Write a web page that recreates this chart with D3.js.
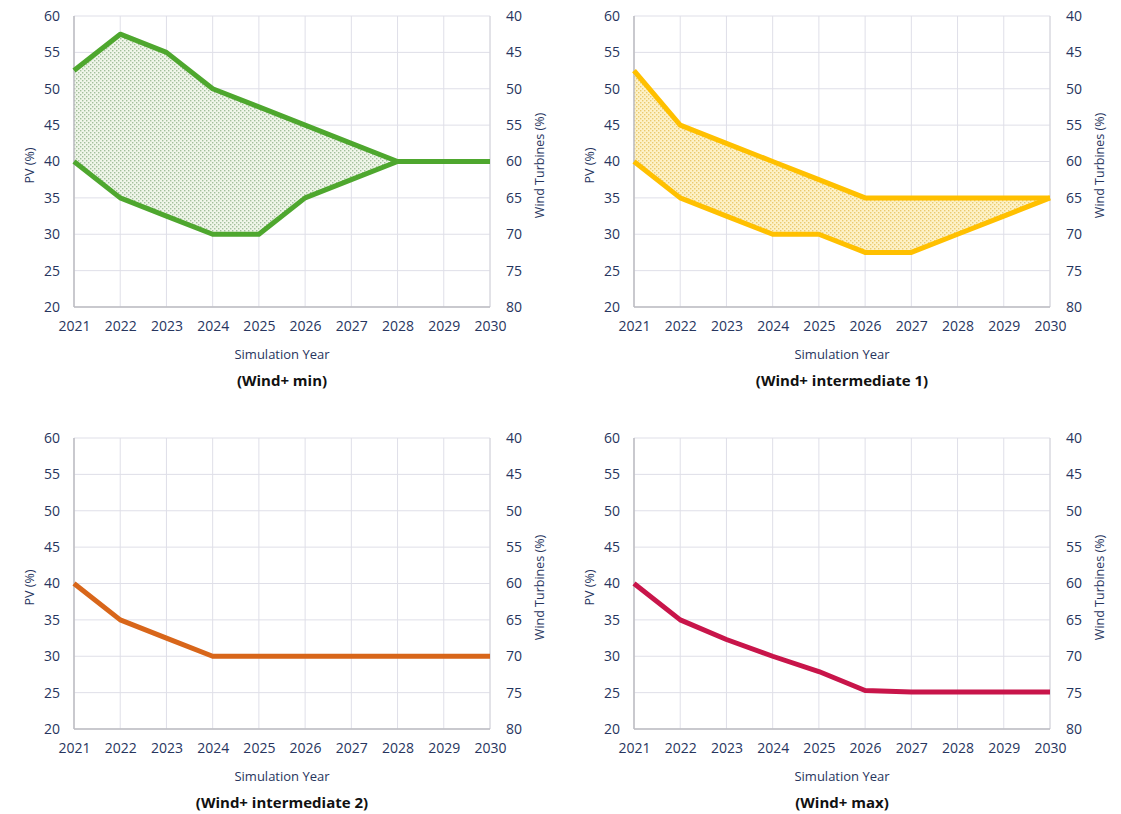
<!DOCTYPE html>
<html><head><meta charset="utf-8">
<script src="https://cdn.jsdelivr.net/npm/d3@7"></script>
<style>body{margin:0;background:#fff;}svg{display:block;font-family:"Open Sans","Liberation Sans",sans-serif;}</style>
</head><body>
<svg id="c" width="1121" height="814"></svg>
<script>
const years = [2021,2022,2023,2024,2025,2026,2027,2028,2029,2030];
const pvTicks = [20,25,30,35,40,45,50,55,60];
const windTicks = [80,75,70,65,60,55,50,45,40];

const minUpper = [52.5,57.5,55,50,47.5,45,42.5,40,40,40];
const minLower = [40,35,32.5,30,30,35,37.5,40,40,40];
const int1Upper = [52.5,45,42.5,40,37.5,35,35,35,35,35];
const int1Lower = [40,35,32.5,30,30,27.5,27.5,30,32.5,35];
const int2 = [40,35,32.5,30,30,30,30,30,30,30];
const maxLine = [40,35,32.3,30,27.9,25.3,25.1,25.1,25.1,25.1];

const titles = ["(Wind+ min)","(Wind+ intermediate 1)","(Wind+ intermediate 2)","(Wind+ max)"];

const svg = d3.select("#c");
const defs = svg.append("defs");
function dotPattern(id, bg, dot){
  const p = defs.append("pattern").attr("id",id).attr("patternUnits","userSpaceOnUse").attr("width",4).attr("height",4);
  p.append("rect").attr("width",4).attr("height",4).attr("fill",bg);
  p.append("rect").attr("x",0).attr("y",0).attr("width",1.4).attr("height",1.4).attr("fill",dot);
  p.append("rect").attr("x",2).attr("y",2).attr("width",1.4).attr("height",1.4).attr("fill",dot);
}
dotPattern("pg","#f0f6ea","#a3bf9c");
dotPattern("py","#fdf2c8","#ebca6e");

const panels = [
  {x0:74,y0:16,color:"#4ea72e",upper:minUpper,lower:minLower,fill:"url(#pg)"},
  {x0:634,y0:16,color:"#ffc000",upper:int1Upper,lower:int1Lower,fill:"url(#py)"},
  {x0:74,y0:438,color:"#d8661a",line:int2},
  {x0:634,y0:438,color:"#c8154a",line:maxLine}
];
const W=416,H=291;
const textCol="#27355e";

panels.forEach((p,i)=>{
  const g = svg.append("g").attr("transform",`translate(${p.x0},${p.y0})`);
  const x = d3.scaleLinear().domain([2021,2030]).range([0,W]);
  const y = d3.scaleLinear().domain([20,60]).range([H,0]);
  const y2 = d3.scaleLinear().domain([80,40]).range([H,0]);
  g.selectAll(".hg").data(pvTicks).join("line").attr("x1",0).attr("x2",W)
    .attr("y1",d=>y(d)).attr("y2",d=>y(d)).attr("stroke","#dfdfe8").attr("stroke-width",1);
  g.selectAll(".vg").data(years).join("line").attr("y1",0).attr("y2",H)
    .attr("x1",d=>x(d)).attr("x2",d=>x(d)).attr("stroke","#dfdfe8").attr("stroke-width",1);
  g.append("line").attr("x1",W).attr("x2",W).attr("y1",0).attr("y2",H).attr("stroke","#d6d6dc");
  if(p.upper){
    const area = d3.area().x((d,j)=>x(years[j])).y0((d,j)=>y(p.lower[j])).y1(d=>y(d));
    g.append("path").datum(p.upper).attr("d",area).attr("fill",p.fill);
  }
  g.append("line").attr("x1",0).attr("x2",W).attr("y1",H).attr("y2",H).attr("stroke","#bdbdc2").attr("stroke-width",1.5);
  g.append("line").attr("x1",0).attr("x2",0).attr("y1",0).attr("y2",H).attr("stroke","#bdbdc2").attr("stroke-width",1.5);
  const line = d3.line().x((d,j)=>x(years[j])).y(d=>y(d));
  const series = p.upper ? [p.upper,p.lower] : [p.line];
  series.forEach(s=>{
    g.append("path").datum(s).attr("d",line).attr("fill","none").attr("stroke",p.color)
      .attr("stroke-width",5).attr("stroke-linejoin","round").attr("stroke-linecap","butt");
  });
  const ax = d3.axisBottom(x).tickValues(years).tickFormat(d3.format("d")).tickSize(0).tickPadding(14);
  const ayL = d3.axisLeft(y).tickValues(pvTicks).tickSize(0).tickPadding(14);
  const ayR = d3.axisRight(y2).tickValues(windTicks).tickSize(0).tickPadding(16);
  [g.append("g").attr("transform",`translate(0,${H})`).call(ax),
   g.append("g").call(ayL),
   g.append("g").attr("transform",`translate(${W},0)`).call(ayR)].forEach(a=>{
     a.select(".domain").remove();
     a.selectAll("text").attr("fill",textCol).style("font-size","14px").style("font-family","'Open Sans',sans-serif");
  });
  g.append("text").attr("transform",`translate(-40,${H/2+4}) rotate(-90)`).attr("text-anchor","middle")
    .attr("fill",textCol).style("font-size","12.5px").text("PV (%)");
  g.append("text").attr("transform",`translate(${W+54},${H/2+4}) rotate(-90)`).attr("text-anchor","middle")
    .attr("fill",textCol).style("font-size","12.5px").text("Wind Turbines (%)");
  g.append("text").attr("x",W/2).attr("y",H+52).attr("text-anchor","middle")
    .attr("fill",textCol).style("font-size","13px").text("Simulation Year");
  g.append("text").attr("x",W/2).attr("y",H+79).attr("text-anchor","middle")
    .attr("fill","#111").style("font-size","15px").style("font-weight","bold").text(titles[i]);
});
</script>
</body></html>
